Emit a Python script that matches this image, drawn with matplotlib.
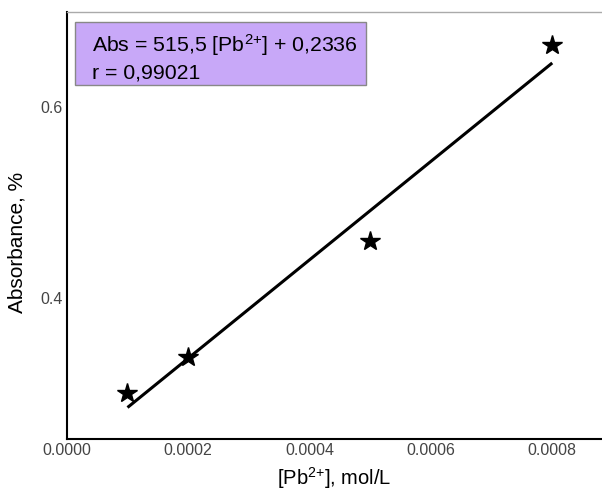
import numpy as np
import matplotlib
matplotlib.use("Agg")
from matplotlib import pyplot as plt
from matplotlib.patches import Rectangle

plt.rcParams['font.family'] = ['Liberation Sans', 'DejaVu Sans']
plt.rcParams['mathtext.fontset'] = 'custom'
plt.rcParams['mathtext.rm'] = 'Liberation Sans'
plt.rcParams['mathtext.it'] = 'Liberation Sans:italic'

# data
conc = [0.0001, 0.0002, 0.0005, 0.0008]
absorb = [0.300, 0.338, 0.460, 0.665]
slope = 515.5
intercept = 0.2336
fit_range = [0.0001, 0.0008]

fig = plt.figure(figsize=(6.02, 4.94), dpi=100)
ax = fig.add_axes([0.111, 0.111, 0.889, 0.865])

xf = np.array(fit_range)
ax.plot(xf, slope * xf + intercept, color='black', lw=2.2, solid_capstyle='butt')
ax.plot(conc, absorb, ls='none', marker='*', ms=15, color='black')

ax.set_xlim(0, 0.000882)
ax.set_ylim(0.252, 0.6995)
ax.set_xticks([0, 0.0002, 0.0004, 0.0006, 0.0008])
ax.set_xticklabels(['0.0000', '0.0002', '0.0004', '0.0006', '0.0008'])
ax.set_yticks([0.4, 0.6])
ax.set_yticklabels(['0.4', '0.6'])
ax.tick_params(length=0, labelsize=11.5, colors='#444444', pad=3)

ax.spines['right'].set_visible(False)
ax.spines['top'].set_color('#aaaaaa')
ax.spines['top'].set_linewidth(1)
ax.spines['left'].set_linewidth(1.5)
ax.spines['bottom'].set_linewidth(1.5)

ax.set_xlabel(r'[Pb$^{2{+}}$], mol/L', fontsize=14.5, labelpad=5)
ax.set_ylabel('Absorbance, %', fontsize=15)
ax.yaxis.set_label_coords(-0.075, 0.46)

# equation box
ax.add_patch(Rectangle((0.015, 0.829), 0.544, 0.148, transform=ax.transAxes,
                       fc='#c8a8f8', ec='#888888', lw=1, zorder=3))
ax.text(0.047, 0.906, r'Abs = 515,5 [Pb$^{2{+}}$] + 0,2336', transform=ax.transAxes,
        ha='left', va='baseline', fontsize=15.3, zorder=4)
ax.text(0.047, 0.845, 'r = 0,99021', transform=ax.transAxes,
        ha='left', va='baseline', fontsize=15.3, zorder=4)

plt.savefig('out.png', dpi=100)
